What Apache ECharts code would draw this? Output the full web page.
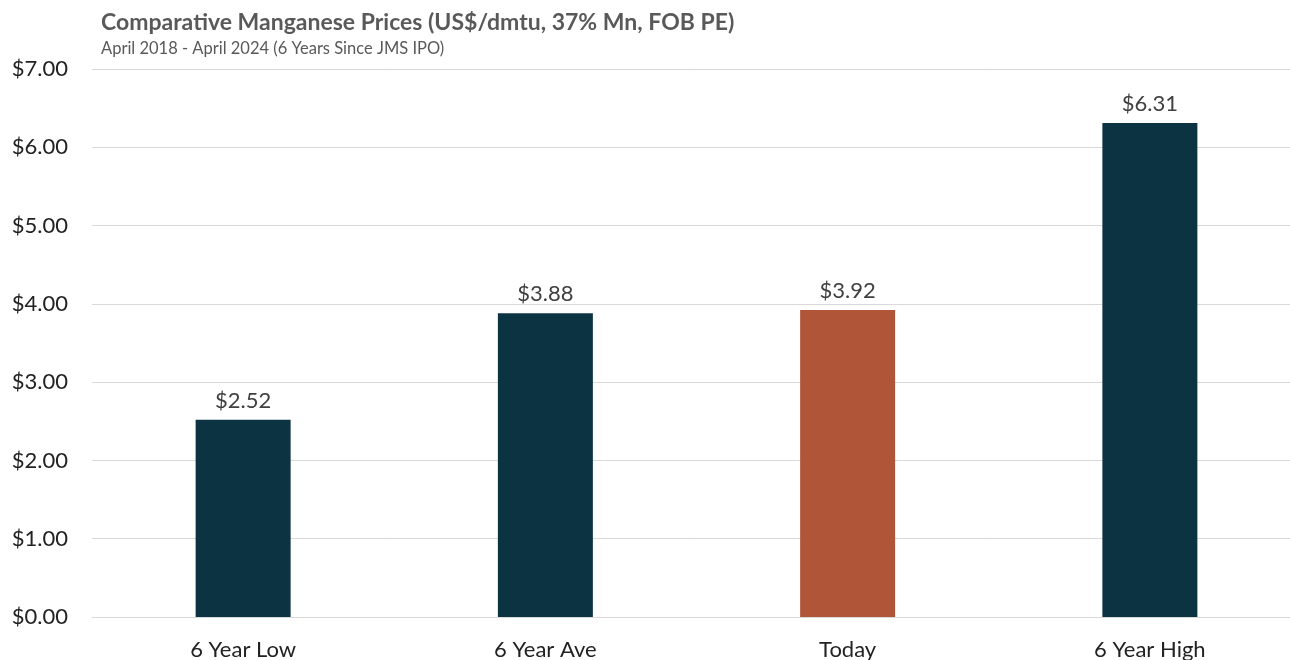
<!DOCTYPE html>
<html><head><meta charset="utf-8">
<script src="https://cdn.jsdelivr.net/npm/echarts@6/dist/echarts.min.js"></script>
<style>html,body{margin:0;padding:0;background:#fff}#c{width:1290px;height:660px}</style>
</head><body><div id="c"></div>
<script>
const categories = ['6 Year Low', '6 Year Ave', 'Today', '6 Year High'];
const values = [2.52, 3.88, 3.92, 6.31];
const barColors = ['#0C3342', '#0C3342', '#B05537', '#0C3342'];
const titleText = 'Comparative Manganese Prices (US$/dmtu, 37% Mn, FOB PE)';
const subtitleText = 'April 2018 - April 2024 (6 Years Since JMS IPO)';

const FONT = 'Lato, "Open Sans", sans-serif';
const chart = echarts.init(document.getElementById('c'));
chart.setOption({
  animation: false,
  title: {
    text: titleText, subtext: subtitleText, left: 96, top: 6, itemGap: 6,
    textStyle: { fontFamily: FONT, fontSize: 23, fontWeight: 'bold', color: '#595959' },
    subtextStyle: { fontFamily: FONT, fontSize: 16.5, color: '#595959' }
  },
  grid: { left: 92, right: -11, top: 69, bottom: 43, outerBoundsMode: 'none', containLabel: false },
  xAxis: {
    type: 'category', data: categories,
    axisLine: { show: true, lineStyle: { color: '#d9d9d9', width: 1 } },
    axisTick: { show: false },
    axisLabel: { fontFamily: FONT, fontSize: 22, color: '#222', margin: 22 }
  },
  yAxis: {
    type: 'value', min: 0, max: 7, interval: 1,
    axisLine: { show: false }, axisTick: { show: false },
    splitLine: { lineStyle: { color: '#d9d9d9', width: 1 } },
    axisLabel: { fontFamily: FONT, fontSize: 22, color: '#222', margin: 24,
      formatter: v => '$' + v.toFixed(2) }
  },
  series: [{
    type: 'bar', barWidth: 95,
    data: values.map((v, i) => ({ value: v, itemStyle: { color: barColors[i] } })),
    label: { show: true, position: 'top', distance: 8, fontFamily: FONT, fontSize: 22, color: '#404040',
      formatter: p => '$' + p.value.toFixed(2) }
  }]
});
</script></body></html>
